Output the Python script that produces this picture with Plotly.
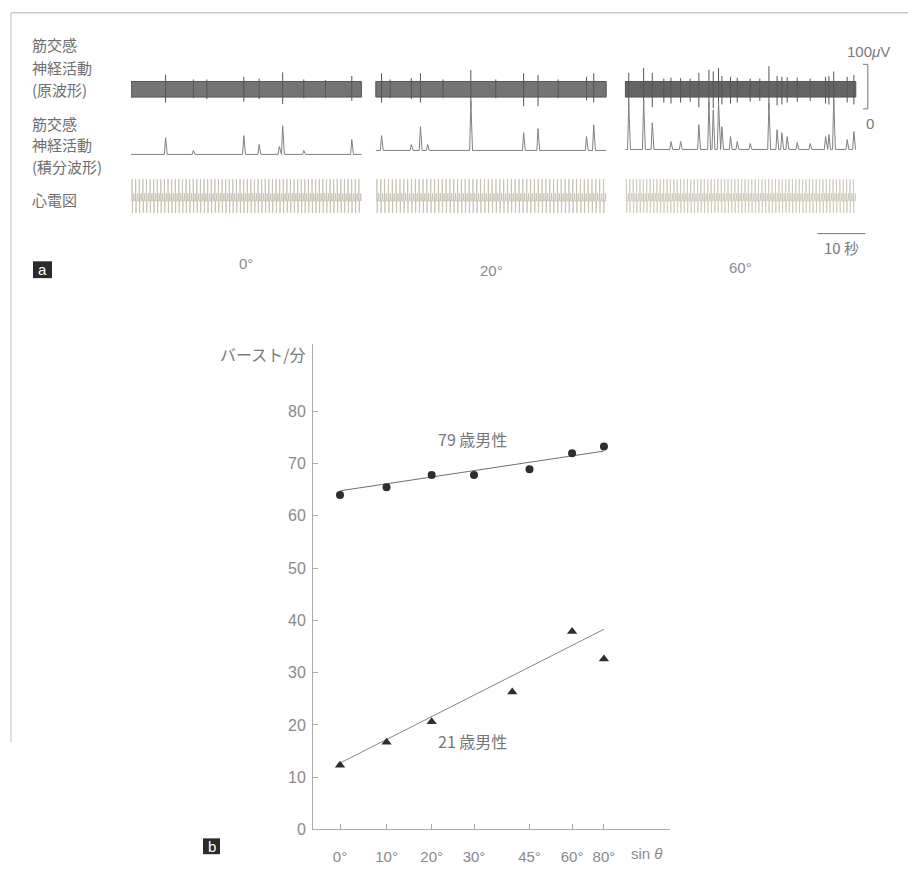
import numpy as np
import plotly.graph_objects as go

W, H = 908, 883

# ---------------- panel b: burst frequency vs. head-up tilt ----------------
tilt_ticks_deg = [0, 10, 20, 30, 45, 60, 80]
rate_ticks = [0, 10, 20, 30, 40, 50, 60, 70, 80]

tilt_79_deg = [0, 10, 20, 30, 45, 60, 80]
burst_rate_79 = [64.0, 65.5, 67.8, 67.8, 68.9, 72.0, 73.3]

tilt_21_deg = [0, 10, 20, 40, 60, 80]
burst_rate_21 = [12.3, 16.7, 20.6, 26.3, 37.9, 32.6]

fit_ends_deg = [0, 80]
fit_79 = [64.8, 72.4]
fit_21 = [12.7, 38.3]

# ---------------- panel a: MSNA recordings at three tilt angles ----------------
segment_tilt_deg = [0, 20, 60]
segment_len_s = 48

# raw neurogram: spike times (s) and excursions above / below the trace centre (uV)
raw_spike_t = [
    [7.2, 13.0, 15.8, 23.5, 26.7, 31.6, 36.0, 40.5, 46.0],
    [1.2, 3.0, 7.4, 9.3, 14.0, 19.8, 25.0, 30.8, 33.8, 38.0, 43.9, 45.4],
    [0.7, 3.8, 5.6, 8.0, 9.5, 11.5, 13.5, 15.3, 17.4, 18.3, 19.4, 20.1, 21.9, 23.3,
     26.0, 28.0, 29.9, 31.6, 32.6, 33.7, 35.8, 38.5, 41.7, 42.4, 43.4, 46.2, 47.6],
]
raw_spike_up = [
    [33, 22, 22, 28, 24, 38, 22, 21, 30],
    [36, 22, 25, 36, 22, 43, 22, 36, 32, 22, 28, 36],
    [37, 48, 37, 24, 26, 25, 24, 37, 44, 40, 48, 30, 28, 26,
     24, 24, 52, 30, 28, 27, 26, 24, 28, 30, 40, 28, 32],
]
raw_spike_down = [
    [30, 20, 22, 28, 22, 33, 20, 20, 26],
    [30, 20, 22, 30, 20, 45, 20, 38, 38, 20, 25, 30],
    [38, 42, 40, 30, 32, 30, 28, 40, 44, 42, 45, 34, 32, 30,
     28, 26, 45, 36, 34, 30, 28, 26, 32, 34, 42, 30, 34],
]
raw_noise_uv = 17.5  # half-width of the background noise band

# integrated neurogram: burst times (s) and burst heights (a.u.)
burst_t = [
    [7.2, 13.0, 23.5, 26.7, 30.9, 31.6, 36.0, 46.0],
    [1.2, 7.4, 9.3, 10.8, 19.8, 30.8, 33.8, 43.9, 45.4],
    [0.7, 3.8, 5.6, 9.5, 11.5, 15.3, 17.4, 18.3, 19.4, 20.1, 21.9, 23.3,
     26.0, 29.9, 31.6, 32.6, 33.7, 35.8, 38.5, 41.7, 42.4, 43.4, 46.2, 47.6],
]
burst_h = [
    [17, 4, 19, 10, 8, 29, 4, 15],
    [15, 6, 24, 6, 50, 18, 22, 14, 26],
    [47, 50, 27, 8, 8, 25, 48, 40, 47, 23, 13, 8,
     6, 47, 20, 17, 13, 7, 6, 13, 15, 50, 10, 18],
]

# ECG: beats counted in each 48 s strip
ecg_beats = [64, 60, 68]

# ---------------- layout helpers ----------------
def fx(p):
    return p / W


def fy(p):
    return 1 - p / H


SEG_OFFSET_S = [0, 51, 103]      # strips placed on one shared time axis
SEG_LABEL_Y = [266, 273, 270]
PX_PER_S = 4.8
A_X0, A_X1 = 131, 875
RAW_MID_UV = 44
INT_BASE = [-1, 3, 4]

GREY_TXT = "#6e6e6e"
NUM_FONT = "Liberation Sans, Arial, sans-serif"
JP_FONT = "Noto Sans CJK JP, sans-serif"

fig = go.Figure()

# ---------- panel a traces ----------
for k in range(3):
    off = SEG_OFFSET_S[k]
    t0, t1 = off, off + segment_len_s
    band_col = "#747474" if k < 2 else "#646464"
    fig.add_trace(go.Scatter(
        x=[t0, t1, t1, t0, t0],
        y=[RAW_MID_UV - raw_noise_uv, RAW_MID_UV - raw_noise_uv,
           RAW_MID_UV + raw_noise_uv, RAW_MID_UV + raw_noise_uv, RAW_MID_UV - raw_noise_uv],
        xaxis="x2", yaxis="y2", mode="lines", fill="toself",
        fillcolor=band_col, line=dict(color="#555555", width=1),
        hoverinfo="skip", showlegend=False))

    xs, ys = [], []
    for t, up, dn in zip(raw_spike_t[k], raw_spike_up[k], raw_spike_down[k]):
        xs += [off + t, off + t, None]
        ys += [RAW_MID_UV + up, RAW_MID_UV - dn, None]
    fig.add_trace(go.Scatter(
        x=xs, y=ys, xaxis="x2", yaxis="y2", mode="lines",
        line=dict(color="#555555", width=1), hoverinfo="skip", showlegend=False))

    # integrated trace: flat baseline with a sharp rise and decay at each burst
    base = INT_BASE[k]
    xi, yi = [t0], [base]
    for t, h in zip(burst_t[k], burst_h[k]):
        xi += [off + t - 0.25, off + t, off + t + 0.35]
        yi += [base, base + h, base]
    xi.append(t1)
    yi.append(base)
    fig.add_trace(go.Scatter(
        x=xi, y=yi, xaxis="x2", yaxis="y3", mode="lines",
        line=dict(color="#808080", width=1), hoverinfo="skip", showlegend=False))

    # ECG: R spike, S dip and T wave for every beat
    n = ecg_beats[k]
    rr = segment_len_s / n
    xe, ye = [t0], [0]
    for i in range(n):
        tb = off + (i + 0.3) * rr
        xe += [tb - 0.05, tb, tb + 0.06, tb + 0.12, tb + 0.30, tb + 0.38, tb + 0.46]
        ye += [0, 1.0, -0.55, 0, 0, 0.35, 0]
    xe.append(t1)
    ye.append(0)
    fig.add_trace(go.Scatter(
        x=xe, y=ye, xaxis="x2", yaxis="y4", mode="lines",
        line=dict(color="#c2beac" if k < 2 else "#ccc8b8", width=0.8),
        hoverinfo="skip", showlegend=False))

# 100 uV calibration bracket
cal_t = SEG_OFFSET_S[2] + segment_len_s + 2.5
fig.add_trace(go.Scatter(
    x=[cal_t - 1.0, cal_t, cal_t, cal_t - 1.0], y=[100, 100, 0, 0],
    xaxis="x2", yaxis="y2", mode="lines",
    line=dict(color="#777777", width=1), hoverinfo="skip", showlegend=False))

# 10 s time bar
bar_end = SEG_OFFSET_S[2] + segment_len_s + 2.0
fig.add_trace(go.Scatter(
    x=[bar_end - 10, bar_end], y=[-1.5, -1.5],
    xaxis="x2", yaxis="y4", mode="lines",
    line=dict(color="#777777", width=1), hoverinfo="skip", showlegend=False))

# ---------- panel b traces ----------
def s(deg):
    return np.sin(np.radians(deg))


fig.add_trace(go.Scatter(
    x=s(fit_ends_deg), y=fit_79, mode="lines",
    line=dict(color="#6f6f6f", width=1), hoverinfo="skip", showlegend=False))
fig.add_trace(go.Scatter(
    x=s(fit_ends_deg), y=fit_21, mode="lines",
    line=dict(color="#8e8285", width=1), hoverinfo="skip", showlegend=False))
fig.add_trace(go.Scatter(
    x=s(tilt_79_deg), y=burst_rate_79, mode="markers",
    marker=dict(symbol="circle", size=8, color="#2e2e2e"), showlegend=False))
fig.add_trace(go.Scatter(
    x=s(tilt_21_deg), y=burst_rate_21, mode="markers",
    marker=dict(symbol="triangle-up", size=9, color="#2e2e2e"), showlegend=False))

# ---------- axes ----------
x0_px, unit_px = 340, 268
b_left, b_right, b_top, b_bottom = 313, 670, 348, 838
y_px_per = 5.28

axis_common = dict(showgrid=False, zeroline=False, showline=True,
                   linecolor="#aaaaaa", linewidth=1, ticks="inside", ticklen=5,
                   tickcolor="#aaaaaa", tickwidth=1)

layout = dict(
    width=W, height=H, margin=dict(l=0, r=0, t=0, b=0),
    paper_bgcolor="white", plot_bgcolor="rgba(0,0,0,0)",
    showlegend=False,
    xaxis=dict(
        domain=[fx(b_left), fx(b_right)],
        range=[(b_left - x0_px) / unit_px, (b_right - x0_px) / unit_px],
        tickvals=list(s(tilt_ticks_deg)),
        ticktext=[f"{d}°" for d in tilt_ticks_deg],
        tickfont=dict(family=NUM_FONT, size=15, color="#8a8a8a"),
        ticklabelstandoff=14, anchor="y", **axis_common),
    yaxis=dict(
        domain=[fy(b_bottom), fy(b_top)],
        range=[0, (b_bottom - b_top) / y_px_per],
        tickvals=rate_ticks,
        tickfont=dict(family=NUM_FONT, size=16, color="#8a8a8a"),
        ticklabelstandoff=3, anchor="x", **axis_common),
    xaxis2=dict(domain=[fx(A_X0), fx(A_X1)], range=[0, (A_X1 - A_X0) / PX_PER_S],
                visible=False, anchor="y2"),
    # raw neurogram (uV): 0 at y=110 px, 100 at y=65 px
    yaxis2=dict(domain=[fy(115), fy(60)], range=[-5 / 0.45, 50 / 0.45],
                visible=False, anchor="x2"),
    # integrated neurogram (a.u., 1 a.u. = 1 px), baseline near y=155 px
    yaxis3=dict(domain=[fy(165), fy(95)], range=[-10, 60],
                visible=False, anchor="x2"),
    # ECG (mV), baseline at y=203 px, 22 px per mV
    yaxis4=dict(domain=[fy(245), fy(175)], range=[-42 / 22, 28 / 22],
                visible=False, anchor="x2"),
)
fig.update_layout(**layout)

# ---------- frame, panel tags ----------
shapes = [
    dict(type="line", xref="paper", yref="paper", x0=fx(11), x1=fx(908), y0=fy(13), y1=fy(13),
         line=dict(color="#c9c9c9", width=1.5)),
    dict(type="line", xref="paper", yref="paper", x0=fx(11), x1=fx(11), y0=fy(13), y1=fy(750),
         line=dict(color="#d2d2d2", width=1.5)),
    dict(type="rect", xref="paper", yref="paper", x0=fx(33), x1=fx(52), y0=fy(281), y1=fy(264),
         fillcolor="#2b2b2b", line=dict(width=0)),
    dict(type="rect", xref="paper", yref="paper", x0=fx(203), x1=fx(220), y0=fy(863), y1=fy(847),
         fillcolor="#2b2b2b", line=dict(width=0)),
]
fig.update_layout(shapes=shapes)

ann = []


def txt(x, y, text, size=16, color=GREY_TXT, family=JP_FONT, xanchor="left", xref="paper"):
    ann.append(dict(x=x, y=fy(y), xref=xref, yref="paper", text=text, showarrow=False,
                    xanchor=xanchor, yanchor="middle",
                    font=dict(size=size, color=color, family=family)))


# channel labels
for label, y in [("筋交感", 45), ("神経活動", 68), ("(原波形)", 90),
                 ("筋交感", 125), ("神経活動", 146), ("(積分波形)", 168),
                 ("心電図", 202)]:
    txt(fx(30), y, label, size=15)

# tilt angle under each strip
for k, deg in enumerate(segment_tilt_deg):
    txt(SEG_OFFSET_S[k] + segment_len_s / 2, SEG_LABEL_Y[k], f"{deg}°", size=15,
        color="#8a8a8a", family=NUM_FONT, xanchor="center", xref="x2")

txt(fx(868), 52, "100<i>μ</i>V", size=15, color="#7a7a7a", family=NUM_FONT, xanchor="center")
txt(fx(870), 125, "0", size=15, color="#7a7a7a", family=NUM_FONT, xanchor="center")
txt(bar_end - 5, 250, "10 秒", size=15, color="#7a7a7a", family=JP_FONT,
    xanchor="center", xref="x2")

txt(fx(42.5), 272.5, "a", size=15, color="white", family=NUM_FONT, xanchor="center")
txt(fx(211.5), 855, "b", size=15, color="white", family=NUM_FONT, xanchor="center")

# panel b texts
txt(fx(307), 358, "バースト/分", size=16, color="#7a7a7a", xanchor="right")
txt(fx(646), 862, "sin <i>θ</i>", size=15, color="#8a8a8a", family=NUM_FONT, xanchor="center")

fig.update_layout(annotations=ann)
fig.add_annotation(x=0.493, y=74.8, xref="x", yref="y", text="79 歳男性", showarrow=False,
                   font=dict(size=16, color="#777777", family=JP_FONT))
fig.add_annotation(x=0.493, y=17.0, xref="x", yref="y", text="21 歳男性", showarrow=False,
                   font=dict(size=16, color="#777777", family=JP_FONT))

fig.write_html("out.html")
